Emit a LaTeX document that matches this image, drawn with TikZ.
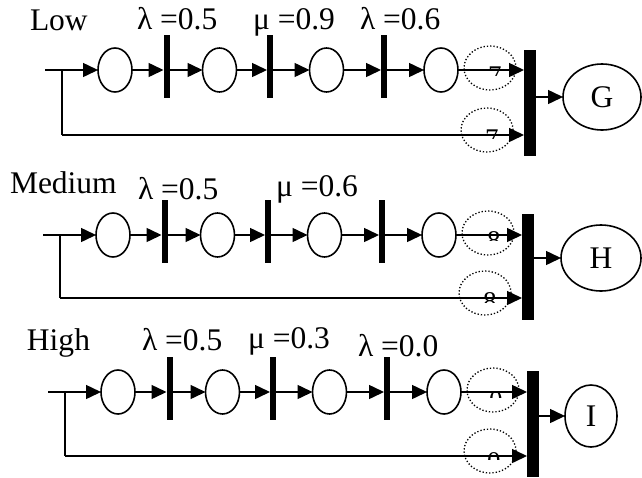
\documentclass[tikz,border=0pt]{standalone}
\usepackage{fontspec}
\setmainfont{Liberation Serif}
\usetikzlibrary{shapes.geometric,arrows.meta}
\newcommand\netrow[4]{% #1 id, #2 dx, #3 main y, #4 bottom y
\begin{scope}[xshift=#2pt]
 \coordinate (s#1) at (45,#3);
 \coordinate (k#1) at (62,#3);
 \coordinate (kb#1) at (62,#4);
 \node[place] (a#1) at (115,#3) {};
 \node[bar] (b#1) at (166.5,#3-4) {};
 \node[place] (c#1) at (219.5,#3) {};
 \node[bar] (d#1) at (270,#3-4) {};
 \node[place] (e#1) at (326.5,#3) {};
 \node[bar] (f#1) at (384,#3-4) {};
 \node[place] (g#1) at (441,#3) {};
 \node[bigbar] (h#1) at (530,{(#3+#4)/2}) {};
 \node[ring] (r#1) at (490,#3-2) {};
 \node[ring] (q#1) at (487,#4-5) {};
 \draw[plain] (s#1) -- (k#1) -- (kb#1);
 \draw[conn] (k#1) -- (a#1.west);
 \draw[conn] (a#1.east) -- (a#1.east -| b#1.west);
 \draw[conn] (a#1.east -| b#1.east) -- (c#1.west);
 \draw[conn] (c#1.east) -- (c#1.east -| d#1.west);
 \draw[conn] (c#1.east -| d#1.east) -- (e#1.west);
 \draw[conn] (e#1.east) -- (e#1.east -| f#1.west);
 \draw[conn] (e#1.east -| f#1.east) -- (g#1.west);
 \draw[conn] (g#1.east) -- (g#1.east -| h#1.west);
 \draw[conn] (kb#1) -- (kb#1 -| h#1.west);
\end{scope}}
\begin{document}
\begin{tikzpicture}[x=1pt,y=-1pt,
  every node/.style={font=\fontsize{31.5}{35}\selectfont, inner sep=0pt, outer sep=0pt},
  place/.style={draw, ellipse, line width=1.6pt, minimum width=34pt, minimum height=44pt},
  bar/.style={fill=black, minimum width=6pt, minimum height=63pt},
  bigbar/.style={fill=black, minimum width=12pt, minimum height=106pt},
  conn/.style={line width=1.5pt, -{Triangle[length=15pt,width=14pt]}},
  plain/.style={line width=1.5pt},
  ring/.style={draw, ellipse, dotted, line width=1.3pt, minimum width=52pt, minimum height=44pt},
  lbl/.style={anchor=base west},
  frag/.style={anchor=north west, font=\fontsize{27}{30}\selectfont}]
\useasboundingbox (0,0) rectangle (642,477);

% ---- Low ----
\netrow{1}{0}{70}{135}
\node[place, minimum width=78pt, minimum height=66pt] (o1) at (602,97) {G};
\draw[conn] (o1.west -| h1.east) -- (o1.west);
\node[lbl] (t1) at (30,30) {Low};
\node[lbl] (t2) at (137,29) {λ =0.5};
\node[lbl] (t3) at (253,29) {μ =0.9};
\node[lbl] (t4) at (360,29) {λ =0.6};
\begin{scope}
 \clip (486,66) rectangle (503,75);
 \node[frag] (p1) at (488,67) {7};
\end{scope}
\begin{scope}
 \clip (483,129) rectangle (500,138);
 \node[frag] (p2) at (485,130) {7};
\end{scope}

% ---- Medium ----
\netrow{2}{-2}{235}{298}
\node[place, minimum width=80pt, minimum height=66pt] (o2) at (601,258) {H};
\draw[conn] (o2.west -| h2.east) -- (o2.west);
\node[lbl] (t5) at (10,193) {Medium};
\node[lbl] (t6) at (138,199) {λ =0.5};
\node[lbl] (t7) at (276,196) {μ =0.6};
\begin{scope}
 \clip (485,231) rectangle (502,240);
 \node[frag] (p3) at (487,232) {8};
\end{scope}
\begin{scope}
 \clip (481,292) rectangle (498,302);
 \node[frag] (p4) at (483,293) {8};
\end{scope}

% ---- High ----
\netrow{3}{3}{392}{456}
\node[place, minimum width=52pt, minimum height=62pt] (o3) at (591,416) {I};
\draw[conn] (o3.west -| h3.east) -- (o3.west);
\node[lbl] (t8) at (27,350) {High};
\node[lbl] (t9) at (142,350) {λ =0.5};
\node[lbl] (t10) at (248,348) {μ =0.3};
\node[lbl] (t11) at (358,356) {λ =0.0};
\begin{scope}
 \clip (487,391) rectangle (505,397);
 \node[frag] (p5) at (489,392) {0};
\end{scope}
\begin{scope}
 \clip (485,452) rectangle (502,459);
 \node[frag] (p6) at (487,453) {0};
\end{scope}
\end{tikzpicture}
\end{document}
